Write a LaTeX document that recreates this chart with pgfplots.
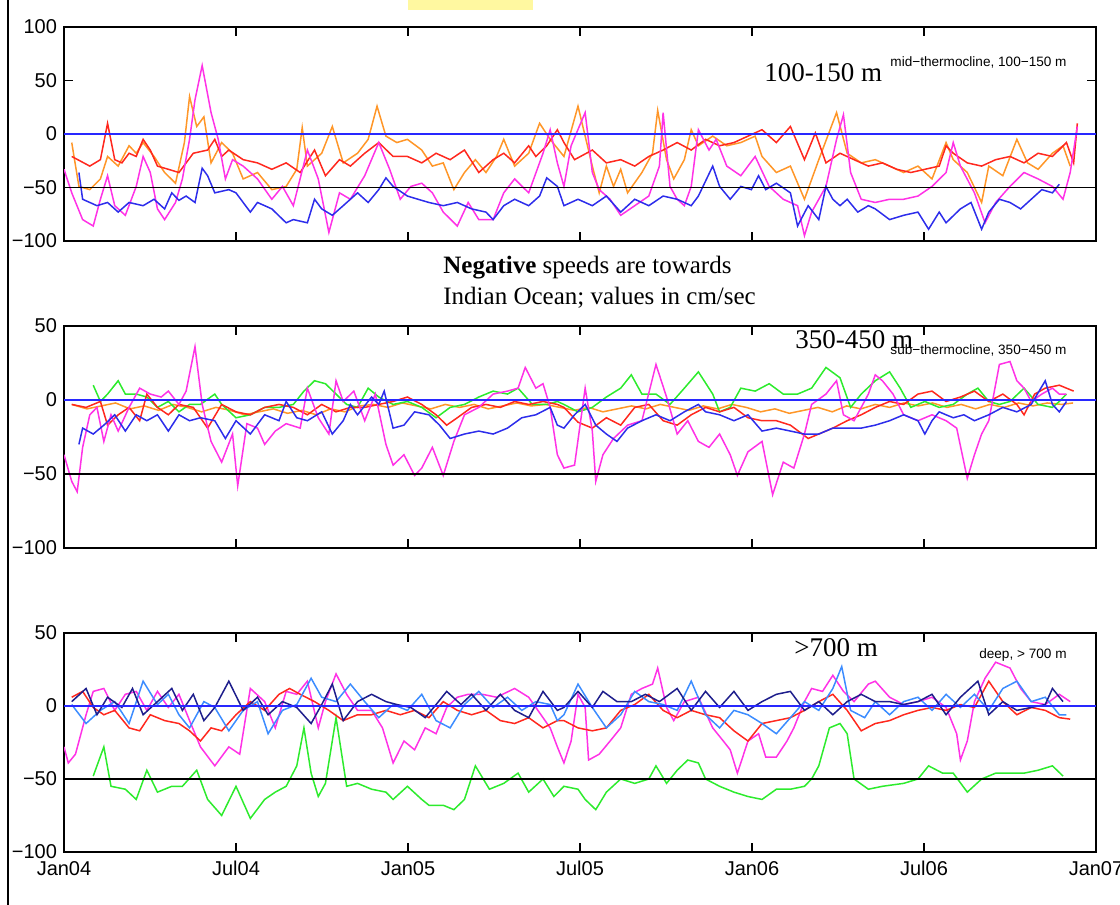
\documentclass[border=0pt]{standalone}
\usepackage{pgfplots}
\pgfplotsset{compat=1.18}
\usepackage{fontspec}
\setmainfont{Liberation Serif}
\newfontfamily\sans{Liberation Sans}
\definecolor{sblue}{RGB}{45,45,235}
\definecolor{sred}{RGB}{255,40,30}
\definecolor{sorange}{RGB}{255,150,40}
\definecolor{smag}{RGB}{255,50,230}
\definecolor{sgreen}{RGB}{45,235,45}
\definecolor{snavy}{RGB}{30,30,140}
\definecolor{slblue}{RGB}{60,140,255}
\definecolor{zline}{RGB}{40,40,255}
\definecolor{hl}{RGB}{255,248,160}
\pgfplotsset{panel/.style={scale only axis, width=516pt, xmin=0, xmax=36,
  xtick={0,6,...,36}, tick align=inside, major tick length=4.5pt,
  axis line style={line width=0.9pt}, every tick/.style={black, line width=0.9pt},
  tick label style={font=\sans\fontsize{10}{12}\selectfont},
  every axis plot/.append style={line width=0.75pt}, anchor=south west}}
\begin{document}
\begin{tikzpicture}
\path[use as bounding box] (0,0) rectangle (560pt,452.5pt);
\fill[hl] (204pt,447.5pt) rectangle (266.5pt,452.5pt);
\draw[line width=1.2pt] (4pt,0) -- (4pt,452.5pt);
% Panel 1
\begin{axis}[panel, at={(32pt,332pt)}, height=107pt, ymin=-100, ymax=100,
  ytick={-100,-50,0,50,100}, yticklabels={−100,−50,0,50,100}, xticklabels={}]
\addplot[sorange] coordinates {(0.27,-8) (0.52,-49) (0.9,-52) (1.27,-42) (1.52,-21) (1.89,-30) (2.27,-11) (2.52,-18) (2.76,-8) (3.14,-21) (3.51,-36) (3.89,-46) (4.2,-8) (4.38,35) (4.63,7) (4.88,16) (5.13,-27) (5.5,-8) (5.88,-18) (6.25,-42) (6.75,-36) (7.25,-52) (7.75,-49) (8.12,-33) (8.31,6) (8.49,-30) (8.99,-18) (9.36,7) (9.74,-27) (10.24,-18) (10.61,-5) (10.92,26) (11.23,-2) (11.61,-8) (11.98,-5) (12.48,-15) (12.85,-30) (13.23,-27) (13.6,-52) (13.97,-36) (14.35,-24) (14.72,-36) (15.09,-21) (15.34,-5) (15.72,-30) (16.21,-18) (16.59,10) (16.96,-5) (17.44,-21) (17.93,26) (18.18,-2) (18.43,-30) (18.67,-55) (18.92,-30) (19.17,-49) (19.42,-33) (19.66,-55) (20.16,-36) (20.53,-18) (20.71,22) (21.02,-24) (21.27,-42) (21.64,-24) (21.88,4) (22.13,-11) (22.63,-2) (23.12,-11) (23.61,-8) (24.11,-2) (24.35,-21) (24.85,-36) (25.34,-30) (25.83,-61) (26.33,-24) (26.95,20) (27.32,-18) (27.81,-27) (28.3,-24) (28.8,-30) (29.29,-36) (29.79,-30) (30.28,-42) (30.77,-8) (31.02,-24) (31.51,-36) (32.01,-64) (32.26,-30) (32.75,-39) (33.24,-5) (33.61,-27) (33.98,-33) (34.48,-18) (34.85,-11) (35.1,-30)};
\addplot[sred] coordinates {(0.27,-21) (0.9,-30) (1.27,-24) (1.52,10) (1.77,-24) (2.02,-27) (2.27,-18) (2.52,-21) (2.76,-5) (3.01,-15) (3.26,-30) (3.64,-33) (4.01,-36) (4.51,-18) (5.01,-15) (5.26,-5) (5.5,-21) (5.75,-15) (6.25,-24) (6.75,-27) (7.25,-33) (7.75,-27) (8.24,-36) (8.74,-15) (9.12,-39) (9.61,-24) (9.99,-30) (10.49,-18) (10.98,-8) (11.48,-21) (11.98,-21) (12.48,-27) (12.98,-18) (13.47,-24) (13.97,-15) (14.47,-36) (14.97,-24) (15.34,-18) (15.72,-27) (16.21,-11) (16.46,-21) (16.84,-11) (17.21,4) (17.44,-8) (17.81,-24) (18.43,-15) (18.92,-27) (19.42,-24) (19.91,-30) (20.4,-21) (20.9,-15) (21.39,-8) (21.88,-15) (22.38,-5) (22.87,-11) (23.37,-8) (23.86,-2) (24.35,4) (24.85,-8) (25.34,7) (25.83,-24) (26.21,1) (26.58,-27) (27.07,-18) (27.56,-24) (28.06,-30) (28.55,-27) (29.05,-33) (29.54,-36) (30.03,-33) (30.53,-30) (30.77,-11) (31.02,-18) (31.51,-27) (32.01,-30) (32.5,-24) (33.0,-21) (33.49,-27) (33.98,-18) (34.48,-21) (34.97,-8) (35.22,-27) (35.35,10)};
\addplot[smag] coordinates {(0,-33) (0.27,-55) (0.65,-80) (1.02,-86) (1.27,-61) (1.52,-39) (1.77,-67) (2.14,-76) (2.52,-49) (2.76,-21) (3.01,-36) (3.26,-70) (3.51,-80) (3.89,-64) (4.13,-42) (4.38,-5) (4.57,32) (4.82,64) (5.13,20) (5.38,-5) (5.63,-42) (5.88,-24) (6.25,-30) (6.5,-36) (6.75,-42) (7.25,-61) (7.62,-49) (8.0,-67) (8.49,-15) (8.87,-42) (9.24,-92) (9.61,-55) (9.99,-61) (10.49,-39) (10.98,-8) (11.36,-33) (11.73,-61) (12.1,-49) (12.48,-46) (12.85,-55) (13.23,-73) (13.72,-86) (14.1,-64) (14.47,-80) (14.97,-80) (15.34,-55) (15.72,-42) (16.21,-55) (16.71,-18) (16.96,4) (17.21,-27) (17.44,-49) (17.69,-11) (18.18,20) (18.43,-36) (18.67,-52) (19.05,-61) (19.42,-76) (19.91,-67) (20.4,-58) (20.77,-30) (20.9,20) (21.14,-49) (21.39,-61) (21.64,-67) (21.88,-49) (22.13,4) (22.5,-15) (22.75,-5) (23.12,-30) (23.61,-39) (24.11,-21) (24.6,-49) (25.09,-61) (25.59,-67) (25.83,-95) (26.08,-73) (26.58,-49) (26.95,-5) (27.19,18) (27.44,-36) (27.81,-61) (28.3,-64) (28.8,-61) (29.29,-61) (29.79,-58) (30.28,-49) (30.77,-36) (31.02,-8) (31.27,-30) (31.76,-55) (32.13,-83) (32.5,-64) (33.0,-49) (33.49,-36) (33.98,-42) (34.48,-49) (34.85,-61) (35.1,-36) (35.35,7)};
\addplot[sblue] coordinates {(0.52,-36) (0.65,-61) (1.15,-67) (1.52,-64) (1.89,-73) (2.27,-64) (2.76,-67) (3.14,-61) (3.51,-70) (3.76,-55) (4.01,-62) (4.26,-58) (4.57,-64) (4.82,-32) (5.01,-39) (5.26,-55) (5.75,-52) (6.0,-55) (6.5,-73) (6.75,-64) (7.25,-70) (7.75,-83) (8.0,-80) (8.49,-83) (8.74,-61) (8.99,-70) (9.36,-76) (9.74,-67) (10.24,-55) (10.61,-64) (10.98,-52) (11.23,-41) (11.48,-49) (11.98,-58) (12.35,-61) (12.73,-64) (13.23,-67) (13.72,-64) (14.22,-70) (14.72,-73) (14.97,-80) (15.34,-67) (15.72,-61) (16.21,-67) (16.59,-58) (16.84,-41) (17.21,-49) (17.44,-67) (17.93,-61) (18.43,-67) (18.92,-58) (19.42,-73) (19.91,-61) (20.4,-67) (20.9,-58) (21.39,-61) (21.88,-67) (22.13,-58) (22.63,-30) (22.87,-49) (23.24,-61) (23.61,-49) (23.98,-52) (24.23,-39) (24.48,-52) (24.85,-46) (25.34,-55) (25.59,-86) (25.96,-67) (26.33,-80) (26.58,-49) (26.82,-61) (27.07,-67) (27.32,-61) (27.69,-73) (28.06,-67) (28.3,-70) (28.8,-80) (29.29,-76) (29.79,-73) (30.16,-89) (30.53,-73) (30.77,-83) (31.27,-70) (31.64,-64) (32.01,-89) (32.26,-73) (32.63,-61) (33.0,-64) (33.37,-70) (33.74,-61) (34.11,-52) (34.48,-55) (34.72,-47)};
\addplot[zline, line width=0.8pt] coordinates {(0,0) (36,0)};
\addplot[black, line width=0.8pt] coordinates {(0,-50) (36,-50)};
\end{axis}
% Panel 2
\begin{axis}[panel, at={(32pt,178.5pt)}, height=111pt, ymin=-100, ymax=50,
  ytick={-100,-50,0,50}, yticklabels={−100,−50,0,50}, xticklabels={}]
\addplot[sorange] coordinates {(0.27,-3) (0.8,-6) (1.3,-4) (1.8,-2) (2.3,-6) (2.8,-4) (3.3,-7) (3.8,-3) (4.3,-5) (4.8,-8) (5.3,-5) (5.8,-7) (6.3,-10) (6.8,-8) (7.3,-6) (7.8,-9) (8.3,-7) (8.8,-10) (9.3,-6) (9.8,-8) (10.3,-4) (10.8,-3) (11.3,-5) (11.8,-2) (12.3,-4) (12.8,-6) (13.3,-3) (13.8,-5) (14.3,-3) (14.8,-6) (15.3,-4) (15.8,-2) (16.3,-4) (16.8,-3) (17.3,-5) (17.8,-7) (18.3,-5) (18.8,-8) (19.3,-6) (19.8,-4) (20.3,-6) (20.8,-3) (21.3,-5) (21.8,-7) (22.3,-4) (22.8,-6) (23.3,-3) (23.8,-5) (24.3,-8) (24.8,-6) (25.3,-9) (25.8,-7) (26.3,-5) (26.8,-8) (27.3,-4) (27.8,-6) (28.3,-3) (28.8,-5) (29.3,-2) (29.8,-4) (30.3,-2) (30.8,-5) (31.3,-3) (31.8,-6) (32.3,-3) (32.8,-5) (33.3,-2) (33.8,-4) (34.3,-2) (34.8,-3) (35.2,-2)};
\addplot[sgreen] coordinates {(1.02,10) (1.27,-1) (1.52,4) (1.89,13) (2.14,4) (2.52,4) (2.89,2) (3.26,-5) (3.64,-1) (4.01,-8) (4.38,-3) (4.76,-3) (5.26,4) (5.5,-3) (6.0,-12) (6.5,-10) (7.0,-5) (7.5,-5) (8.0,-3) (8.37,6) (8.74,13) (9.12,11) (9.49,4) (9.86,-3) (10.24,-5) (10.61,8) (10.98,2) (11.48,-3) (11.98,-1) (12.48,-5) (12.98,-12) (13.47,-5) (13.97,-3) (14.47,2) (14.97,6) (15.47,4) (15.84,8) (16.34,-3) (16.84,-3) (17.21,-1) (17.44,-3) (17.93,-8) (18.43,-5) (18.92,2) (19.42,8) (19.79,17) (20.16,4) (20.65,4) (21.14,-3) (21.64,8) (22.13,19) (22.63,4) (22.87,-8) (23.24,-5) (23.61,8) (24.11,6) (24.6,11) (25.09,4) (25.59,4) (26.08,8) (26.58,22) (27.07,15) (27.44,-5) (27.81,4) (28.3,13) (28.8,19) (29.17,8) (29.54,-5) (30.03,-1) (30.53,-5) (31.02,-3) (31.51,4) (31.88,8) (32.26,-1) (32.63,-3) (33.0,-1) (33.49,8) (33.98,-3) (34.48,-5) (34.72,-1) (34.97,4)};
\addplot[sred] coordinates {(0.27,-3) (0.77,-5) (1.27,-1) (1.52,-17) (1.89,-10) (2.27,-5) (2.64,-14) (2.89,4) (3.26,-5) (3.64,-10) (4.01,-3) (4.51,-5) (5.01,-19) (5.5,-3) (6.0,-8) (6.5,-10) (7.0,-5) (7.5,-3) (8.0,-5) (8.49,-10) (8.99,-3) (9.49,-8) (9.99,-5) (10.49,-5) (10.98,-3) (11.48,-1) (11.98,2) (12.48,-3) (12.98,-10) (13.35,-17) (13.72,-12) (14.22,-5) (14.72,-3) (15.22,-5) (15.72,-1) (16.21,-3) (16.71,-1) (17.21,-3) (17.44,-5) (17.93,-15) (18.43,-19) (18.92,-12) (19.42,-17) (19.91,-5) (20.4,-3) (20.9,-14) (21.39,-17) (21.88,-10) (22.38,-5) (22.87,-8) (23.37,-5) (23.86,-12) (24.35,-14) (24.85,-14) (25.34,-17) (25.96,-26) (26.33,-23) (26.82,-19) (27.32,-14) (27.81,-10) (28.3,-5) (28.8,-1) (29.29,-3) (29.79,4) (30.28,6) (30.77,-1) (31.27,2) (31.76,6) (32.26,-1) (32.75,4) (33.24,-3) (33.49,-10) (33.86,4) (34.23,8) (34.72,10) (35.22,6)};
\addplot[smag] coordinates {(0,-37) (0.27,-55) (0.46,-62) (0.65,-32) (0.9,-10) (1.15,-5) (1.39,-28) (1.64,-10) (1.89,-21) (2.27,-5) (2.64,8) (3.01,4) (3.39,2) (3.64,6) (4.01,-3) (4.26,6) (4.57,36) (4.82,-3) (5.13,-28) (5.5,-42) (5.88,-23) (6.06,-58) (6.38,-16) (6.75,-19) (7.0,-30) (7.37,-21) (7.75,-16) (8.24,-19) (8.49,8) (8.87,-12) (9.24,-23) (9.49,13) (9.74,-1) (10.11,6) (10.49,-14) (10.86,4) (11.23,-30) (11.48,-44) (11.86,-37) (12.23,-51) (12.48,-46) (12.85,-32) (13.23,-51) (13.6,-28) (13.97,-10) (14.47,-5) (14.97,4) (15.47,6) (15.84,8) (16.09,22) (16.46,8) (16.71,11) (16.96,-5) (17.21,-37) (17.44,-46) (17.81,-44) (18.18,8) (18.43,-21) (18.55,-55) (18.8,-37) (19.17,-26) (19.66,-17) (20.16,-14) (20.65,24) (21.02,2) (21.39,-23) (21.76,-14) (22.13,-28) (22.5,-32) (22.87,-23) (23.24,-37) (23.49,-51) (23.86,-35) (24.35,-28) (24.72,-64) (25.09,-42) (25.46,-46) (25.83,-23) (26.08,-3) (26.58,4) (26.95,13) (27.19,-10) (27.56,-14) (28.06,4) (28.3,17) (28.55,13) (28.92,4) (29.29,-10) (29.79,-14) (30.28,-10) (30.77,-14) (31.14,-19) (31.51,-53) (31.76,-37) (32.01,-23) (32.26,-14) (32.63,24) (33.0,26) (33.24,13) (33.49,8) (33.74,-1) (34.11,4) (34.48,8) (34.72,4) (34.97,4)};
\addplot[sblue] coordinates {(0.52,-30) (0.65,-19) (1.02,-23) (1.39,-17) (1.77,-10) (2.14,-21) (2.52,-10) (2.89,-14) (3.26,-10) (3.64,-21) (4.01,-10) (4.38,-14) (4.76,-12) (5.26,-14) (5.63,-26) (6.0,-14) (6.5,-23) (7.0,-10) (7.5,-14) (7.75,-1) (8.12,-12) (8.49,-14) (8.99,-8) (9.36,-23) (9.74,-14) (9.99,-3) (10.24,-10) (10.73,2) (10.98,-3) (11.17,6) (11.48,-19) (11.86,-17) (12.23,-8) (12.73,-10) (13.1,-17) (13.47,-26) (13.97,-23) (14.47,-21) (14.97,-23) (15.47,-19) (15.97,-12) (16.46,-10) (16.96,-5) (17.21,-17) (17.44,-19) (17.81,-10) (18.18,-3) (18.55,-17) (18.92,-23) (19.29,-28) (19.66,-19) (20.16,-14) (20.65,-10) (21.14,-14) (21.64,-8) (22.13,-3) (22.38,-8) (22.87,-10) (23.37,-14) (23.86,-10) (24.35,-21) (24.85,-19) (25.34,-21) (25.83,-23) (26.33,-23) (26.82,-19) (27.32,-19) (27.81,-19) (28.3,-17) (28.8,-14) (29.29,-10) (29.79,-14) (30.03,-23) (30.28,-14) (30.53,-8) (30.77,-10) (31.02,-12) (31.39,-10) (31.76,-14) (32.26,-10) (32.75,-5) (33.24,-8) (33.74,-3) (34.23,13) (34.48,-3) (34.72,-8) (34.97,-1)};
\addplot[zline, line width=0.8pt] coordinates {(0,0) (36,0)};
\addplot[black, line width=0.8pt] coordinates {(0,-50) (36,-50)};
\end{axis}
% Panel 3
\begin{axis}[panel, at={(32pt,26.5pt)}, height=109.5pt, ymin=-100, ymax=50,
  ytick={-100,-50,0,50}, yticklabels={−100,−50,0,50},
  xticklabels={Jan04,Jul04,Jan05,Jul05,Jan06,Jul06,Jan07},
  xticklabel style={inner sep=1pt, yshift=-3.5pt}]
\addplot[sgreen] coordinates {(1.02,-48) (1.39,-28) (1.64,-55) (2.14,-57) (2.52,-64) (2.89,-44) (3.26,-59) (3.76,-55) (4.13,-55) (4.63,-44) (5.01,-64) (5.5,-75) (6.0,-55) (6.5,-77) (7.0,-64) (7.37,-59) (7.75,-55) (8.12,-41) (8.37,-15) (8.62,-46) (8.87,-62) (9.12,-53) (9.49,-8) (9.86,-55) (10.24,-53) (10.73,-57) (11.23,-59) (11.48,-64) (11.98,-55) (12.48,-64) (12.73,-68) (13.23,-68) (13.6,-71) (13.97,-64) (14.35,-41) (14.84,-57) (15.34,-53) (15.84,-46) (16.21,-59) (16.71,-50) (17.09,-62) (17.44,-55) (17.93,-57) (18.18,-64) (18.55,-71) (18.92,-59) (19.42,-50) (19.91,-53) (20.4,-50) (20.65,-41) (21.02,-53) (21.39,-44) (21.76,-37) (22.13,-39) (22.38,-50) (22.87,-55) (23.37,-59) (23.86,-62) (24.35,-64) (24.85,-57) (25.34,-57) (25.83,-55) (26.08,-50) (26.33,-41) (26.7,-15) (27.07,-12) (27.32,-19) (27.56,-50) (28.06,-57) (28.55,-55) (29.29,-53) (29.79,-50) (30.16,-41) (30.65,-46) (31.02,-46) (31.51,-59) (32.01,-50) (32.5,-46) (33.0,-46) (33.49,-46) (33.98,-44) (34.48,-41) (34.85,-48)};
\addplot[smag] coordinates {(0,-28) (0.15,-39) (0.4,-33) (0.77,-6) (1.02,10) (1.39,12) (1.77,-3) (2.14,8) (2.52,10) (2.89,-3) (3.26,10) (3.64,-1) (4.01,8) (4.38,-10) (4.76,-28) (5.26,-41) (5.75,-28) (6.13,-33) (6.5,12) (7.0,3) (7.37,-15) (7.75,10) (8.12,8) (8.49,17) (8.87,-15) (9.12,3) (9.49,22) (9.86,8) (10.24,-3) (10.73,-3) (11.11,-15) (11.48,-39) (11.86,-24) (12.23,-30) (12.6,-15) (12.98,-19) (13.35,-1) (13.72,6) (14.1,8) (14.6,8) (15.09,6) (15.72,12) (16.21,6) (16.71,-8) (16.96,-15) (17.21,-28) (17.44,-39) (17.69,-24) (17.93,8) (18.18,-1) (18.3,-37) (18.67,-33) (19.05,-24) (19.42,-15) (19.79,8) (20.16,12) (20.53,15) (20.71,26) (21.02,-1) (21.27,-10) (21.64,3) (22.13,6) (22.63,-15) (23.0,-24) (23.24,-30) (23.49,-46) (23.86,-24) (24.23,-19) (24.48,-35) (24.85,-35) (25.22,-24) (25.46,-15) (25.83,3) (26.08,12) (26.46,10) (26.82,21) (27.19,10) (27.56,3) (28.06,15) (28.3,17) (28.8,6) (29.29,1) (29.79,3) (30.28,6) (30.77,-1) (31.14,-19) (31.27,-37) (31.51,-24) (31.76,3) (32.13,19) (32.5,30) (33.0,26) (33.37,12) (33.74,3) (34.23,1) (34.72,8) (35.1,3)};
\addplot[sred] coordinates {(0.27,6) (0.65,10) (1.02,-1) (1.39,-6) (1.77,-3) (2.27,-15) (2.64,-17) (3.01,-6) (3.51,-10) (4.01,-12) (4.38,-17) (4.76,-24) (5.13,-15) (5.5,-17) (6.0,-6) (6.5,3) (7.0,-3) (7.5,8) (7.87,12) (8.24,8) (8.74,3) (9.24,-3) (9.74,-10) (10.24,-6) (10.73,-6) (11.23,-3) (11.73,-6) (12.23,-3) (12.73,-8) (13.23,3) (13.72,-3) (14.22,-6) (14.72,-3) (15.22,-10) (15.72,-12) (16.21,-8) (16.71,-15) (17.21,-10) (17.44,-10) (17.93,-15) (18.43,-17) (18.92,-15) (19.42,-3) (19.91,1) (20.4,8) (20.9,-3) (21.39,-8) (21.88,-3) (22.38,-6) (22.87,-8) (23.37,-17) (23.86,-24) (24.35,-12) (24.85,-10) (25.34,-8) (25.83,-3) (26.33,3) (26.82,8) (27.32,-3) (27.81,-17) (28.3,-12) (28.8,-10) (29.29,-6) (29.79,-3) (30.28,-1) (30.77,-3) (31.27,1) (31.76,-1) (32.26,17) (32.75,3) (33.24,-6) (33.74,-1) (34.23,-3) (34.72,-8) (35.1,-9)};
\addplot[slblue] coordinates {(0.27,1) (0.77,-12) (1.27,-3) (1.77,3) (2.27,-12) (2.76,17) (3.26,1) (3.64,8) (4.01,-6) (4.38,-15) (4.88,3) (5.26,-1) (5.75,-17) (6.25,-3) (6.75,3) (7.12,-19) (7.62,-3) (8.12,1) (8.62,19) (8.99,6) (9.49,3) (9.99,15) (10.49,3) (10.98,-8) (11.48,1) (11.98,-3) (12.48,8) (12.98,-10) (13.47,-15) (13.97,1) (14.47,10) (14.97,-1) (15.47,6) (15.97,-3) (16.46,3) (16.96,1) (17.21,-10) (17.44,-6) (17.93,15) (18.43,-1) (18.92,-15) (19.42,-6) (19.91,10) (20.4,3) (20.9,1) (21.39,-3) (21.88,17) (22.38,-6) (22.87,-15) (23.37,-3) (23.86,-6) (24.35,-12) (24.85,-19) (25.34,-8) (25.83,3) (26.33,-3) (26.82,12) (27.13,27) (27.44,-3) (27.93,-8) (28.3,3) (28.8,-6) (29.29,3) (29.79,6) (30.28,-3) (30.77,8) (31.27,-1) (31.76,8) (32.26,-3) (32.75,12) (33.24,17) (33.74,3) (34.23,6) (34.72,-6) (34.97,-6)};
\addplot[snavy] coordinates {(0.27,3) (0.77,12) (1.15,-6) (1.52,6) (2.02,-1) (2.39,12) (2.76,-6) (3.26,3) (3.76,12) (4.13,-3) (4.51,8) (4.88,-10) (5.26,-1) (5.75,17) (6.25,-3) (6.75,6) (7.12,-6) (7.62,3) (8.12,-1) (8.62,-12) (8.99,1) (9.36,15) (9.74,-10) (10.24,3) (10.73,8) (11.23,3) (11.61,1) (12.1,-1) (12.6,-8) (12.98,1) (13.35,10) (13.85,1) (14.22,8) (14.72,-3) (15.22,8) (15.72,-3) (16.21,-8) (16.71,10) (17.21,-3) (17.44,-1) (17.93,10) (18.43,-1) (18.8,10) (19.29,3) (19.79,3) (20.28,8) (20.77,3) (21.39,12) (21.88,-3) (22.38,10) (22.87,-1) (23.37,10) (23.86,-3) (24.35,3) (24.85,8) (25.34,10) (25.83,-3) (26.33,3) (26.82,-6) (27.32,3) (27.81,8) (28.3,3) (28.8,3) (29.29,1) (29.79,3) (30.28,8) (30.77,-6) (31.27,6) (31.88,17) (32.26,-6) (32.75,3) (33.24,-3) (33.74,-1) (34.23,1) (34.48,12) (34.85,3)};
\addplot[zline, line width=0.8pt] coordinates {(0,0) (36,0)};
\addplot[black, line width=0.8pt] coordinates {(0,-50) (36,-50)};
\end{axis}
% annotations
\node[anchor=base west, inner sep=0, font=\fontsize{13.5}{16}\selectfont] at (382pt,411.5pt) {100-150 m};
\node[anchor=base east, inner sep=0, font=\sans\fontsize{6.8}{8}\selectfont] at (533.5pt,419pt) {mid−thermocline, 100−150 m};
\node[anchor=base west, inner sep=0, font=\fontsize{12.5}{15}\selectfont] at (221.5pt,315.5pt) {\textbf{Negative} speeds are towards};
\node[anchor=base west, inner sep=0, font=\fontsize{12.5}{15}\selectfont] at (221.5pt,300pt) {Indian Ocean; values in cm/sec};
\node[anchor=base east, inner sep=0, font=\sans\fontsize{6.8}{8}\selectfont] at (533.5pt,275pt) {sub−thermocline, 350−450 m};
\node[anchor=base west, inner sep=0, font=\fontsize{13.5}{16}\selectfont] at (397.5pt,278pt) {350-450 m};
\node[anchor=base east, inner sep=0, font=\sans\fontsize{6.8}{8}\selectfont] at (533.5pt,123pt) {deep, > 700 m};
\node[anchor=base west, inner sep=0, font=\fontsize{13.5}{16}\selectfont] at (397pt,124pt) {>700 m};
\end{tikzpicture}
\end{document}
